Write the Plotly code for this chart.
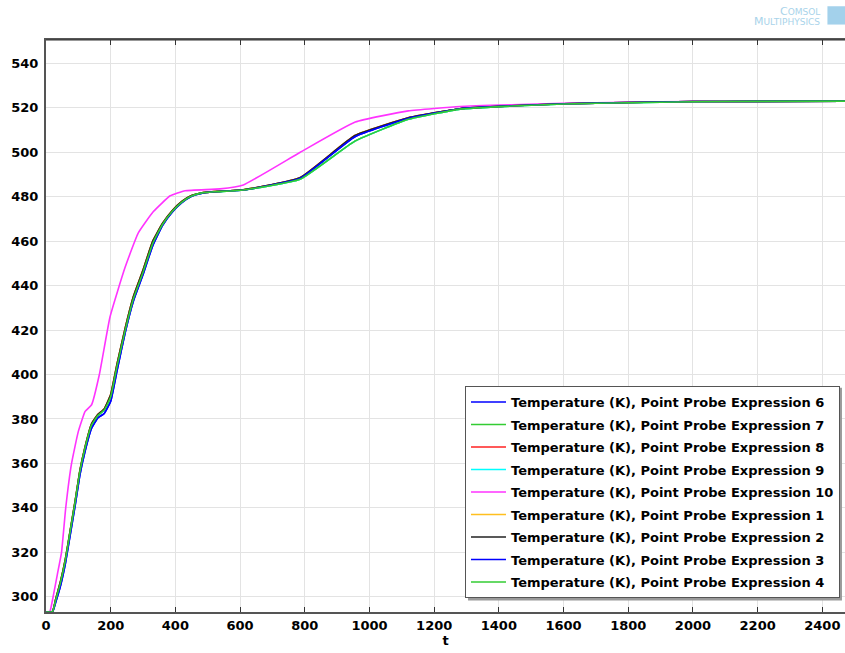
import plotly.graph_objects as go

# time axis (s)
t = [0, 20, 30, 45, 60, 75, 90, 105, 120, 140, 160, 180, 200, 220, 245, 270, 300,
     330, 360, 390, 420, 450, 480, 520, 610, 785, 955, 1120, 1280, 1440, 1600,
     1800, 2000, 2200, 2470]

# probe group A (expressions 6, 3) - blue
temp_a = [293.15, 293.2, 297.5, 305, 315, 328, 341, 355, 365, 375.5, 380.5, 382.5,
          388, 402, 419, 433, 445, 458, 467, 473, 477.3, 480.2, 481.5, 482.2, 483,
          488.3, 507, 515.3, 519.6, 520.9, 521.8, 522.4, 522.8, 522.9, 523]
# probe group B (expressions 7, 9, 4) - green / cyan
temp_b = [293.15, 293.3, 298.5, 306.5, 316.5, 329.5, 342.5, 356.5, 366.5, 377, 381.5,
          384, 390, 404, 420, 434, 446, 459, 467.5, 473.3, 477.6, 480.3, 481.6, 482.2,
          483, 487.8, 505, 514.8, 519.4, 520.8, 521.7, 522.3, 522.7, 522.9, 523]
# probe group C (expressions 8, 1, 2) - red / yellow / black
temp_c = [293.15, 293.4, 299, 307, 317, 330, 343, 357, 367, 377.5, 382, 384.5,
          391, 405, 421, 435, 447, 460, 468, 473.7, 477.9, 480.5, 481.7, 482.3, 483.1,
          488.5, 507.5, 515.5, 519.6, 520.9, 521.8, 522.4, 522.8, 522.9, 523]
# probe expression 10 - magenta
t_10 = [0, 12, 22, 35, 48, 61, 79, 100, 121, 141, 165, 198, 244, 285, 332, 384, 430,
        538, 610, 786, 956, 1120, 1280, 1440, 1600, 1800, 2000, 2200, 2470]
temp_10 = [293.15, 293.5, 300, 310, 320, 340, 360, 374.4, 383.4, 386.4, 400, 426,
           448, 463.6, 473.3, 480.4, 482.7, 483.5, 485.3, 500, 513.6, 518.6, 520.6,
           521.4, 522, 522.5, 522.8, 522.9, 523]

legend_names = ["Temperature (K), Point Probe Expression 6",
                "Temperature (K), Point Probe Expression 7",
                "Temperature (K), Point Probe Expression 8",
                "Temperature (K), Point Probe Expression 9",
                "Temperature (K), Point Probe Expression 10",
                "Temperature (K), Point Probe Expression 1",
                "Temperature (K), Point Probe Expression 2",
                "Temperature (K), Point Probe Expression 3",
                "Temperature (K), Point Probe Expression 4"]
colors = ["#0000ff", "#33cc33", "#ff2222", "#00ffff", "#ff33ff",
          "#ffbf1f", "#222222", "#0000ff", "#33cc33"]
series_x = [t, t, t, t, t_10, t, t, t, t]
series_y = [temp_a, temp_b, temp_c, temp_b, temp_10, temp_c, temp_c, temp_a, temp_b]

x_ticks = list(range(0, 2401, 200))
y_ticks = list(range(300, 541, 20))

fig = go.Figure()
for i, (name, col, xs, ys) in enumerate(zip(legend_names, colors, series_x, series_y)):
    fig.add_trace(go.Scatter(x=xs, y=ys, mode="lines", name=name,
                             line=dict(color=col, width=1.6, shape="spline", smoothing=0.4),
                             legendgroup=f"g{i}"))

bold13 = dict(family="DejaVu Sans", size=13, color="black", weight="bold")

fig.update_layout(
    width=845, height=653,
    margin=dict(l=46, r=0, t=40, b=41),
    paper_bgcolor="white", plot_bgcolor="white",
    font=dict(family="DejaVu Sans", size=12, color="black"),
    showlegend=True,
    legend=dict(x=0.5244, y=0.0245, xanchor="left", yanchor="bottom",
                bgcolor="white", bordercolor="#555555", borderwidth=1,
                font=bold13, tracegroupgap=2.6, traceorder="grouped", itemwidth=35),
    xaxis=dict(range=[0, 2470], tickvals=x_ticks, showgrid=True, gridcolor="#e3e3e3",
               gridwidth=1, zeroline=False, showline=True, linecolor="#555555", linewidth=2,
               mirror="ticks", ticks="inside", ticklen=5, tickcolor="#333333", tickwidth=1,
               tickfont=bold13,
               title=dict(text="t", font=bold13, standoff=1)),
    yaxis=dict(range=[293.15, 550.5], tickvals=y_ticks, showgrid=True, gridcolor="#e3e3e3",
               gridwidth=1, zeroline=False, showline=True, linecolor="#555555", linewidth=2,
               ticks="", ticklabelstandoff=3, tickfont=bold13),
)

fig.add_shape(type="line", xref="paper", yref="paper", x0=0, x1=1, y0=1, y1=1,
              line=dict(color="#333333", width=1))

# legend drop shadow
fig.add_shape(type="rect", xref="paper", yref="paper", layer="above",
              x0=0.5282, x1=0.9962, y0=0.0200, y1=0.392,
              fillcolor="#9a9a9a", line=dict(width=0))

# COMSOL logo text
fig.add_annotation(text="C<span style='font-size:9px'>OMSOL</span>", xref="paper", yref="paper",
                   x=0.971, y=1.049, xanchor="right", yanchor="middle", showarrow=False,
                   font=dict(family="DejaVu Sans", size=11, color="#a9d3ea"))
fig.add_annotation(text="M<span style='font-size:9px'>ULTIPHYSICS</span>", xref="paper", yref="paper",
                   x=0.971, y=1.032, xanchor="right", yanchor="middle", showarrow=False,
                   font=dict(family="DejaVu Sans", size=11, color="#a9d3ea"))
fig.add_shape(type="rect", xref="paper", yref="paper", x0=0.978, x1=1.0, y0=1.027, y1=1.059,
              fillcolor="#8cc6e6", line=dict(width=0), opacity=0.8)

fig.write_html("out.html")
